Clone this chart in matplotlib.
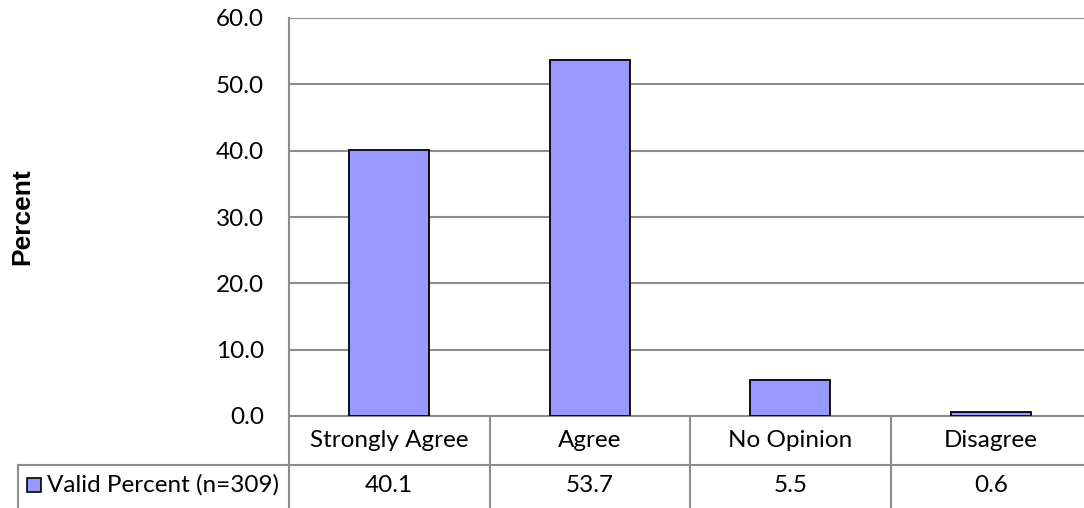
import matplotlib
matplotlib.use("Agg")
import matplotlib.pyplot as plt
from matplotlib.transforms import blended_transform_factory
from matplotlib.patches import Rectangle

categories = ["Strongly Agree", "Agree", "No Opinion", "Disagree"]
valid_percent = [40.1, 53.7, 5.5, 0.6]
series_label = "Valid Percent (n=309)"
y_ticks = [0, 10, 20, 30, 40, 50, 60]

W, H = 1084, 508
fig = plt.figure(figsize=(W / 100, H / 100), dpi=100)

# plot area in pixel terms (right edge runs past the canvas)
left_px, right_px, top_px, bottom_px = 289, 1091, 18, 416
ax = fig.add_axes([left_px / W, (H - bottom_px) / H,
                   (right_px - left_px) / W, (bottom_px - top_px) / H])

bar_color = "#9999FF"
grid_color = "#8C8C8C"
tick_font = "Lato"
fs = 17.5

x = list(range(len(categories)))
ax.bar(x, valid_percent, width=0.4, color=bar_color, edgecolor="black",
       linewidth=1.3, zorder=3)

ax.set_xlim(-0.5, len(categories) - 0.5)
ax.set_ylim(0, 60)
ax.set_yticks(y_ticks)
ax.set_yticklabels([f"{v:.1f}" for v in y_ticks], fontsize=fs, family=tick_font)
ax.tick_params(axis="y", length=0, pad=18)
ax.set_xticks([])
ax.yaxis.grid(True, color=grid_color, linewidth=1.5, zorder=0)
ax.set_axisbelow(True)
for side in ["top", "right"]:
    ax.spines[side].set_visible(False)
ax.spines["left"].set_color(grid_color)
ax.spines["left"].set_linewidth(1.5)
ax.spines["bottom"].set_color(grid_color)
ax.spines["bottom"].set_linewidth(1.5)

fig.text(22 / W, 1 - 217 / H, "Percent", rotation=90, ha="center", va="center",
         fontsize=19, fontweight="bold", family="Liberation Sans")

# data table below the axis
px_h = bottom_px - top_px
row1_bot = -(465 - bottom_px) / px_h
row2_bot = -(520 - bottom_px) / px_h
tr = blended_transform_factory(ax.transData, ax.transAxes)
line_kw = dict(color=grid_color, linewidth=1.5, clip_on=False)

# vertical separators between category columns
for i in range(len(categories) + 1):
    ax.plot([i - 0.5, i - 0.5], [0, row2_bot], transform=tr, **line_kw)
# horizontal line between the two rows
ax.plot([-0.5, len(categories) - 0.5], [row1_bot, row1_bot], transform=tr, **line_kw)

# series header cell on the left
trf = blended_transform_factory(fig.transFigure, ax.transAxes)
x0 = 17.5 / W
xa = left_px / W
ax.plot([x0, xa], [row1_bot, row1_bot], transform=trf, **line_kw)
ax.plot([x0, x0], [row1_bot, row2_bot], transform=trf, **line_kw)

for i, (cat, val) in enumerate(zip(categories, valid_percent)):
    ax.text(i, row1_bot / 2, cat, transform=tr, ha="center", va="center",
            fontsize=fs, family=tick_font)
    ax.text(i, -(486 - bottom_px) / px_h, f"{val:.1f}", transform=tr,
            ha="center", va="center", fontsize=fs, family=tick_font)

key_y = -(485 - bottom_px) / px_h
fig.patches.append(Rectangle((27 / W, 1 - 492 / H), 14 / W, 14 / H,
                             transform=fig.transFigure, facecolor=bar_color,
                             edgecolor="black", linewidth=1.2))
ax.text(47 / W, key_y, series_label, transform=trf, ha="left", va="center",
        fontsize=fs, family=tick_font)

fig.savefig("out.png", dpi=100)
